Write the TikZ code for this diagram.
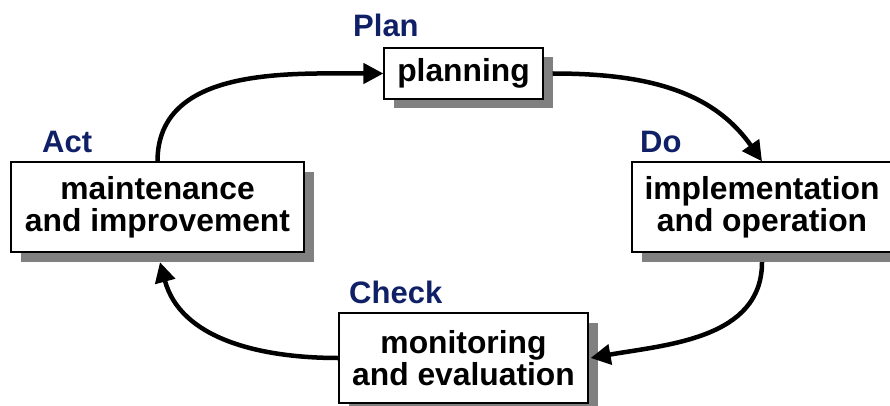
\documentclass[tikz,border=0pt]{standalone}
\usepackage{fontspec}
\setmainfont{Liberation Sans}
\usetikzlibrary{arrows.meta}
\definecolor{navy}{RGB}{16,32,102}
\definecolor{shadowgray}{RGB}{128,128,128}
\tikzset{
  boxnode/.style={draw=black, line width=1.2pt, fill=white, inner sep=0pt, align=center,
    font=\fontsize{31.8}{32}\selectfont\bfseries},
  shadownode/.style={fill=shadowgray, inner sep=0pt},
  phaselabel/.style={anchor=base west, inner sep=0pt, text=navy,
    font=\fontsize{31}{31}\selectfont\bfseries},
  flow/.style={line width=4.5pt, -{Triangle[length=20pt,width=20pt]}}
}
\begin{document}
\begin{tikzpicture}[x=1pt,y=1pt]
\useasboundingbox (0,0) rectangle (890,405);
% shadows
\node[shadownode, minimum width=159pt, minimum height=51pt] (psh) at (473,322) {};
\node[shadownode, minimum width=293pt, minimum height=90pt] (ash) at (167,188) {};
\node[shadownode, minimum width=260pt, minimum height=90pt] (dsh) at (771.5,188) {};
\node[shadownode, minimum width=249pt, minimum height=90pt] (csh) at (473,37) {};
% boxes
\node[boxnode, minimum width=159pt, minimum height=51pt] (planning) at (463.5,331.5) {planning};
\node[boxnode, minimum width=293pt, minimum height=90pt] (act) at (157.5,198) {maintenance\\and improvement};
\node[boxnode, minimum width=260pt, minimum height=90pt] (do) at (762,198) {implementation\\and operation};
\node[boxnode, minimum width=249pt, minimum height=90pt] (check) at (463.5,47) {monitoring\\and evaluation};
% connectors
\draw[flow] (planning.east -| psh.east) to[out=0, in=125] (do.north);
\draw[flow] (do.south |- dsh.south) to[out=-90, in=10] ([xshift=2pt]check.east);
\draw[flow] (check.west) to[out=180, in=-75] ([xshift=2.5pt]act.south |- ash.south);
\draw[flow] (act.north) to[out=90, in=180] (planning.west);
% labels
\node[phaselabel] (lplan) at (353,368) {Plan};
\node[phaselabel] (lact) at (42,253) {Act};
\node[phaselabel] (ldo) at (640,253) {Do};
\node[phaselabel] (lcheck) at (349,102) {Check};
\end{tikzpicture}
\end{document}
